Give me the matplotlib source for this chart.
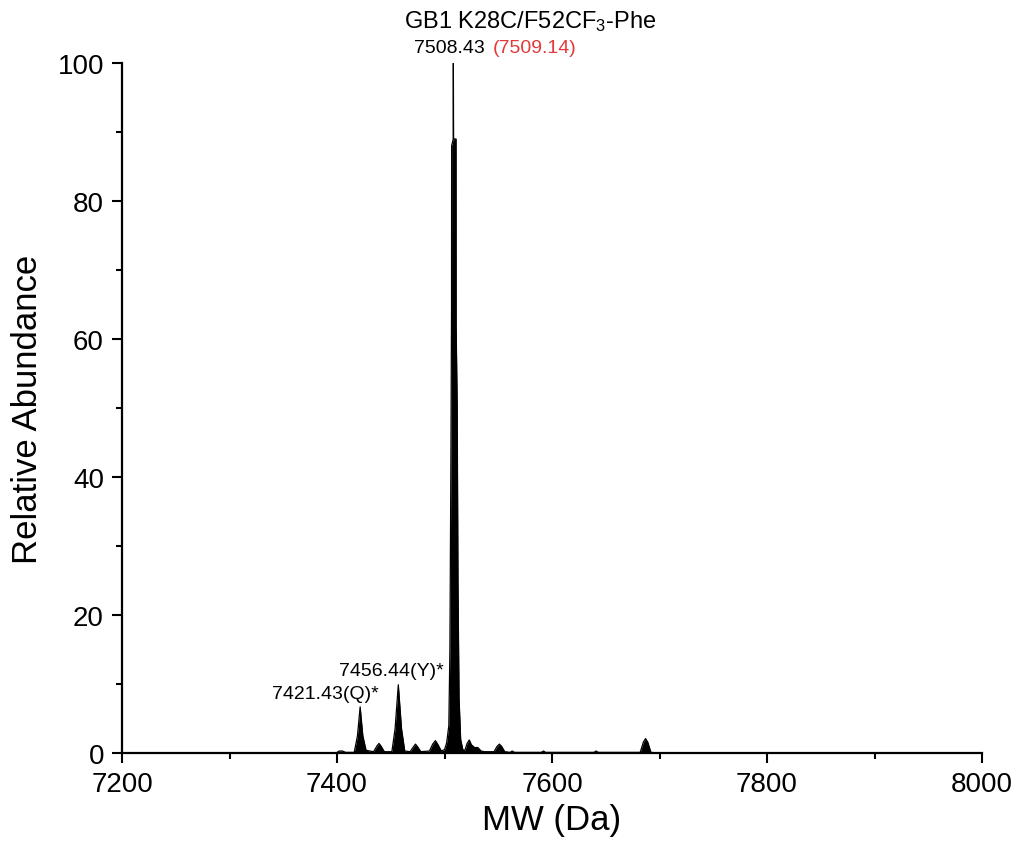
import numpy as np
import matplotlib
matplotlib.use('Agg')
from matplotlib import pyplot as plt
from matplotlib.ticker import MultipleLocator

plt.rcParams['font.family'] = ['Liberation Sans', 'DejaVu Sans']
plt.rcParams['mathtext.fontset'] = 'custom'
plt.rcParams['mathtext.rm'] = 'Liberation Sans'
plt.rcParams['mathtext.default'] = 'regular'

# deconvoluted spectrum trace
mw = [7200, 7399, 7402, 7405, 7408,
      7416, 7419, 7421.5, 7424, 7427,
      7434, 7437, 7439, 7441, 7444,
      7451, 7454, 7457, 7460, 7463,
      7468, 7471, 7473, 7475, 7478,
      7486, 7489, 7491.5, 7494, 7497,
      7500, 7502, 7504, 7505, 7506, 7506.5, 7506.6, 7508.1, 7508.2, 7508.4,
      7510.7, 7510.8, 7511.8, 7512.5, 7513.5, 7515, 7517,
      7519, 7521, 7523, 7525, 7528, 7531, 7534, 7537,
      7546, 7549, 7551, 7553, 7556,
      7561, 7563, 7565,
      7590, 7592, 7594,
      7639, 7641, 7643,
      7682, 7685, 7687, 7689, 7692,
      7700, 8000]
abundance = [0, 0, 0.3, 0.3, 0.1,
             0.1, 2.5, 6.7, 2.5, 0.4,
             0.2, 1.0, 1.4, 1.0, 0.2,
             0.2, 3.5, 9.9, 3.5, 0.3,
             0.2, 0.9, 1.3, 0.9, 0.2,
             0.3, 1.3, 1.8, 1.2, 0.3,
             0.5, 1.5, 4, 15, 45, 64, 88, 89, 100, 89,
             89, 62, 50, 25, 8, 2, 0.5,
             0.4, 1.4, 1.9, 1.2, 0.8, 0.8, 0.3, 0.2,
             0.2, 1.0, 1.3, 1.0, 0.2,
             0.1, 0.3, 0.1,
             0.1, 0.3, 0.1,
             0.1, 0.3, 0.1,
             0.1, 1.6, 2.1, 1.6, 0.1,
             0, 0]

title = 'GB1 K28C/F52CF$_3$-Phe'
main_found = '7508.43'
main_calc = '(7509.14)'
peak_labels = ['7456.44(Y)*', '7421.43(Q)*']
peak_label_x = [7450.7, 7388.8]
peak_label_y = [11.9, 8.6]

fig = plt.figure(figsize=(10.22, 8.54), dpi=100)
ax = fig.add_axes([0.1194, 0.117, 0.8415, 0.808])

ax.fill_between(mw, abundance, 0, color='black', lw=0)
ax.plot(mw, abundance, color='black', lw=0.9)

ax.set_xlim(7200, 8000)
ax.set_ylim(0, 100)
ax.xaxis.set_major_locator(MultipleLocator(200))
ax.xaxis.set_minor_locator(MultipleLocator(100))
ax.yaxis.set_major_locator(MultipleLocator(20))
ax.yaxis.set_minor_locator(MultipleLocator(10))

for s in ['top', 'right']:
    ax.spines[s].set_visible(False)
for s in ['left', 'bottom']:
    ax.spines[s].set_linewidth(1.6)
ax.tick_params(which='major', direction='out', length=7, width=1.5, labelsize=20, pad=6)
ax.tick_params(which='minor', direction='out', length=4, width=1.5)

ax.set_xlabel('MW (Da)', fontsize=25, labelpad=4)
ax.set_ylabel('Relative Abundance', fontsize=25, labelpad=10)

fig.text(530 / 1022, 1 - 22 / 854, title, fontsize=17, ha='center', va='center')
ax.text(7504.2, 102.2, main_found, fontsize=14, ha='center', va='center', clip_on=False)
ax.text(7545, 102.2, main_calc, fontsize=14, ha='left', va='center', color='#e03a3a', clip_on=False)
for lab, x, y in zip(peak_labels, peak_label_x, peak_label_y):
    ax.text(x, y, lab, fontsize=14, ha='center', va='center')

fig.savefig('out.png', dpi=100)
